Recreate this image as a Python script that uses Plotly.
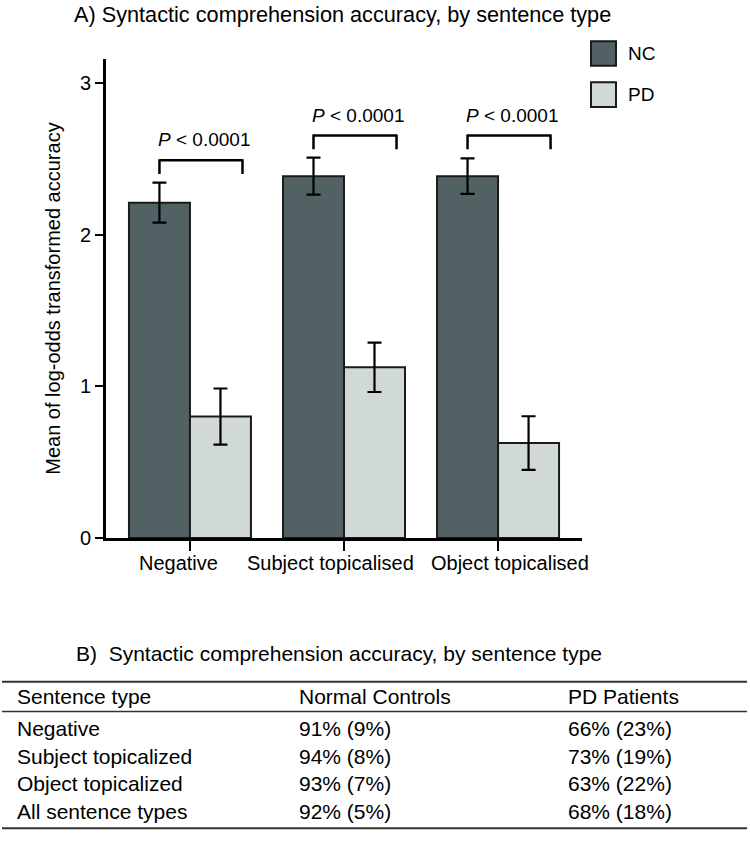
import plotly.graph_objects as go

W, H = 750, 842

# ---------------- data ----------------
categories = ["Negative", "Subject topicalised", "Object topicalised"]
nc_means = [2.21, 2.385, 2.385]
nc_err = [0.132, 0.122, 0.117]
pd_means = [0.80, 1.125, 0.625]
pd_err = [0.185, 0.163, 0.177]
series_names = ["NC", "PD"]
y_ticks = [0, 1, 2, 3]
p_labels = ["<i>P</i> &lt; 0.0001", "<i>P</i> &lt; 0.0001", "<i>P</i> &lt; 0.0001"]
bracket_levels = [2.49, 2.653, 2.653]

title_a = "A) Syntactic comprehension accuracy, by sentence type"
y_title = "Mean of log-odds transformed accuracy"

title_b = "B)  Syntactic comprehension accuracy, by sentence type"
table_header = ["Sentence type", "Normal Controls", "PD Patients"]
table_types = ["Negative", "Subject topicalized", "Object topicalized", "All sentence types"]
table_nc = ["91% (9%)", "94% (8%)", "93% (7%)", "92% (5%)"]
table_pd = ["66% (23%)", "73% (19%)", "63% (22%)", "68% (18%)"]

# ---------------- styles ----------------
FONT = "Liberation Sans, Arial, Helvetica, sans-serif"
NC_COLOR = "#526264"
PD_COLOR = "#d1d9d7"
EDGE = "#1a1a1a"
label_shift = [-0.075, -0.09, 0.078]   # horizontal nudges of category labels (axis units)


def px(x):
    return x / W


def py(y):
    return 1 - y / H


xs = list(range(len(categories)))

fig = go.Figure()
fig.add_trace(go.Bar(
    x=xs, y=nc_means, name=series_names[0],
    marker=dict(color=NC_COLOR, line=dict(color=EDGE, width=2)),
    error_y=dict(type="data", array=nc_err, color="black", thickness=2.2, width=7),
    showlegend=False, hoverinfo="skip",
))
fig.add_trace(go.Bar(
    x=xs, y=pd_means, name=series_names[1],
    marker=dict(color=PD_COLOR, line=dict(color=EDGE, width=2)),
    error_y=dict(type="data", array=pd_err, color="black", thickness=2.2, width=7),
    showlegend=False, hoverinfo="skip",
))

shapes = []
annotations = []

# category labels under the x axis
for i, cat in enumerate(categories):
    annotations.append(dict(xref="x", yref="paper", x=i + label_shift[i], y=py(570), text=cat,
                            showarrow=False, xanchor="center", yanchor="middle",
                            font=dict(family=FONT, size=20, color="black")))

# significance brackets
for i, lvl in enumerate(bracket_levels):
    x0, x1 = i - 0.198, i + 0.341
    drop = 0.09
    line = dict(color="black", width=2.5)
    shapes.append(dict(type="line", xref="x", yref="y", x0=x0, x1=x1, y0=lvl, y1=lvl, line=line))
    shapes.append(dict(type="line", xref="x", yref="y", x0=x0, x1=x0, y0=lvl - drop, y1=lvl + 0.006, line=line))
    shapes.append(dict(type="line", xref="x", yref="y", x0=x1, x1=x1, y0=lvl - drop, y1=lvl + 0.006, line=line))
    annotations.append(dict(
        xref="x", yref="y", x=i + 0.09, y=lvl + 0.135, text=p_labels[i],
        showarrow=False, xanchor="center", yanchor="middle",
        font=dict(family=FONT, size=19, color="black"),
    ))

# legend (manual, large boxes)
leg_colors = [NC_COLOR, PD_COLOR]
leg_tops = [41.7, 83.3]
for name, col, top in zip(series_names, leg_colors, leg_tops):
    shapes.append(dict(type="rect", xref="paper", yref="paper",
                       x0=px(591), x1=px(616), y0=py(top + 25), y1=py(top),
                       fillcolor=col, line=dict(color=EDGE, width=2)))
    annotations.append(dict(xref="paper", yref="paper", x=px(626), y=py(top + 12.5),
                            text=name, showarrow=False, xanchor="left", yanchor="middle",
                            font=dict(family=FONT, size=19, color="black")))

# panel A title
annotations.append(dict(xref="paper", yref="paper", x=px(72), y=py(15), text=title_a,
                        showarrow=False, xanchor="left", yanchor="middle",
                        font=dict(family=FONT, size=21.7, color="black")))

# panel B title and table
annotations.append(dict(xref="paper", yref="paper", x=px(74), y=py(662), text=title_b,
                        showarrow=False, xanchor="left", yanchor="middle",
                        font=dict(family=FONT, size=21, color="black")))

col_x = [15, 297, 566]
header_y = 705.5
row_y0 = 738.5
row_h = 27.8
tfont = dict(family=FONT, size=21, color="black")
for c, txt in enumerate(table_header):
    annotations.append(dict(xref="paper", yref="paper", x=px(col_x[c]), y=py(header_y), text=txt,
                            showarrow=False, xanchor="left", yanchor="middle", font=tfont))
for r in range(len(table_types)):
    for c, txt in enumerate([table_types[r], table_nc[r], table_pd[r]]):
        annotations.append(dict(xref="paper", yref="paper", x=px(col_x[c]), y=py(row_y0 + r * row_h),
                                text=txt, showarrow=False, xanchor="left", yanchor="middle", font=tfont))

for yline, wline in [(690.7, 2), (721, 1.5), (839.3, 2)]:
    shapes.append(dict(type="line", xref="paper", yref="paper", x0=px(2), x1=px(747),
                       y0=py(yline), y1=py(yline), line=dict(color="#333333", width=wline)))

fig.update_layout(
    width=W, height=H,
    margin=dict(l=0, r=0, t=0, b=0),
    paper_bgcolor="white", plot_bgcolor="white",
    barmode="group", bargap=0.208, bargroupgap=0,
    font=dict(family=FONT, color="black"),
    shapes=shapes, annotations=annotations,
    showlegend=False, hovermode=False,
    xaxis=dict(
        domain=[px(106), px(582)], range=[-0.545, 2.545],
        tickvals=xs, showticklabels=False,
        showline=True, linewidth=3, linecolor="black",
        ticks="outside", ticklen=10, tickwidth=2, tickcolor="black",
        showgrid=False, zeroline=False, fixedrange=True,
    ),
    yaxis=dict(
        domain=[py(545), py(60)], range=[0, 3.156],
        tickvals=y_ticks,
        showline=True, linewidth=3, linecolor="black",
        ticks="outside", ticklen=8, tickwidth=2, tickcolor="black",
        tickfont=dict(family=FONT, size=20, color="black"),
        showgrid=False, zeroline=False, fixedrange=True,
        title=dict(text=y_title, font=dict(family=FONT, size=20, color="black"), standoff=14),
    ),
)

fig.write_html(
    "out.html",
    config={"displayModeBar": False, "staticPlot": True},
    post_script=("document.documentElement.style.margin='0px';"
                 "document.body.style.margin='0px';"
                 "document.documentElement.style.overflow='hidden';"
                 "document.body.style.overflow='hidden';"),
)
